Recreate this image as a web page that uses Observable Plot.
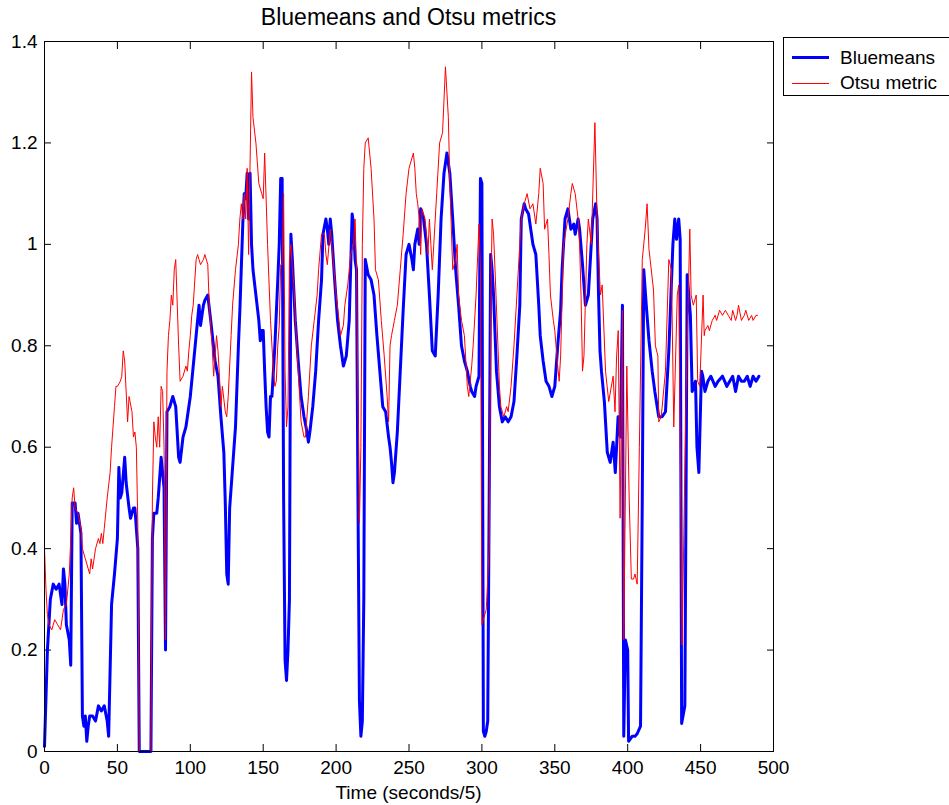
<!DOCTYPE html>
<html>
<head>
<meta charset="utf-8">
<script src="https://cdn.jsdelivr.net/npm/d3@7"></script>
<script src="https://cdn.jsdelivr.net/npm/@observablehq/plot@0.6"></script>
<style>
  html, body { margin: 0; padding: 0; background: white; }
  #wrap { position: relative; width: 949px; height: 805px; overflow: hidden; font-family: "Liberation Sans", Arial, sans-serif; color: black; }
  #title { position: absolute; left: 44px; width: 729px; top: 5px; text-align: center; font-size: 23px; line-height: 25px; }
  #xlabel { position: absolute; left: 44px; width: 729px; top: 782px; text-align: center; font-size: 19px; line-height: 21px; }
  #legend { position: absolute; left: 783px; top: 37px; width: 170px; height: 59px; border: 1px solid black; background: white; box-sizing: border-box; }
  .lg { position: absolute; left: 0; width: 170px; height: 24px; }
  .lg .sw { position: absolute; left: 8px; width: 37px; top: 11px; }
  .lg .tx { position: absolute; left: 56px; top: 0; font-size: 19px; line-height: 24px; white-space: nowrap; }
</style>
</head>
<body>
<div id="wrap">
  <div id="chart"></div>
  <div id="title">Bluemeans and Otsu metrics</div>
  <div id="xlabel">Time (seconds/5)</div>
  <div id="legend"></div>
</div>
<script>
const seriesNames = ["Bluemeans", "Otsu metric"];
const seriesColors = ["#0000ff", "#ff0000"];
const xTicks = [0, 50, 100, 150, 200, 250, 300, 350, 400, 450, 500];
const yTicks = [0, 0.2, 0.4, 0.6, 0.8, 1.0, 1.2, 1.4];

const blueT = [0,2,4,6,8,10,12,13,14,15,17,18,19,21,22,23,25,26,27,28,29,30,31,33,35,37,39,41,43,44,46,48,50,51,52,53,55,56,58,59,61,62,64,65,73,74,75,77,78,80,81,82,83,84,86,88,90,92,93,95,97,100,102,104,106,107,109,110,112,114,117,119,121,123,124,125,126,127,129,131,133,134,136,137,138,139,140,141,142,143,145,147,148,149,150,151,152,153,154,155,156,158,160,161,162,163,164,165,166,167,168,169,170,172,174,176,178,180,181,182,184,186,188,190,191,193,194,195,196,197,199,201,203,205,207,209,211,212,213,214,215,216,217,218,219,220,222,224,226,228,230,232,234,236,237,238,239,240,242,244,246,248,250,252,253,254,256,257,258,260,262,264,266,268,270,272,274,276,278,280,282,284,286,288,290,292,293,295,296,298,299,300,301,302,303,304,305,306,307,308,310,312,314,316,318,320,322,324,326,327,329,330,332,334,335,337,339,340,342,344,346,347,348,350,352,354,355,357,359,360,361,363,364,366,367,369,370,371,373,376,378,379,380,381,382,384,386,388,390,391.5,393.4,395,396.4,397.3,398.4,400,400.6,403,405,406.5,408.8,410,411,413,414.6,416.8,418.6,421.3,423.6,425.9,428.2,431,432.3,433.5,435,436,437,439.2,440,440.8,443,444.2,446.5,447.5,448.8,450.6,451.5,453,455,457,460,462,465,468,470,472,474,476,478,480,482,484,486,488,490];
const blueV = [0.01,0.2,0.3,0.33,0.32,0.33,0.29,0.36,0.33,0.25,0.22,0.17,0.49,0.49,0.45,0.47,0.43,0.07,0.05,0.07,0.02,0.05,0.07,0.07,0.06,0.09,0.08,0.09,0.06,0.03,0.29,0.35,0.42,0.56,0.5,0.51,0.58,0.53,0.48,0.46,0.48,0.48,0.4,0.0,0.0,0.42,0.47,0.47,0.5,0.58,0.55,0.52,0.2,0.67,0.68,0.7,0.68,0.58,0.57,0.62,0.64,0.7,0.76,0.82,0.88,0.84,0.88,0.89,0.9,0.85,0.77,0.74,0.66,0.59,0.49,0.35,0.33,0.48,0.56,0.64,0.8,0.87,1.04,1.1,1.09,1.14,1.05,1.14,1.0,0.95,0.9,0.85,0.81,0.83,0.83,0.75,0.68,0.63,0.62,0.7,0.7,0.8,0.93,1.0,1.13,1.13,0.5,0.18,0.14,0.2,0.3,1.02,0.97,0.85,0.77,0.7,0.66,0.63,0.61,0.63,0.68,0.75,0.85,0.93,1.02,1.05,1.03,1.0,1.05,1.02,0.93,0.85,0.8,0.76,0.78,0.85,1.06,1.04,0.97,0.95,0.5,0.1,0.03,0.06,0.3,0.97,0.94,0.93,0.9,0.82,0.75,0.68,0.67,0.62,0.6,0.57,0.53,0.55,0.63,0.75,0.87,0.98,1.0,0.97,0.95,1.0,1.03,1.0,1.07,1.05,1.0,0.9,0.79,0.78,0.9,1.05,1.14,1.18,1.14,1.05,0.95,0.88,0.8,0.77,0.75,0.72,0.71,0.7,0.72,0.74,1.13,1.12,0.04,0.03,0.04,0.06,0.5,0.98,0.95,0.9,0.75,0.68,0.65,0.66,0.65,0.66,0.69,0.78,0.88,1.05,1.08,1.07,1.06,1.02,1.0,0.98,0.88,0.82,0.77,0.73,0.72,0.71,0.7,0.72,0.8,0.87,0.95,1.05,1.07,1.05,1.03,1.04,1.02,1.05,1.03,0.96,0.92,0.88,0.9,1.05,1.08,1.05,0.9,0.79,0.75,0.69,0.59,0.57,0.61,0.55,0.66,0.62,0.88,0.03,0.22,0.2,0.02,0.03,0.03,0.035,0.05,0.5,0.95,0.87,0.81,0.75,0.71,0.66,0.66,0.67,0.79,1.0,1.05,1.01,1.05,1.01,0.055,0.09,0.5,0.94,0.86,0.71,0.73,0.6,0.55,0.75,0.74,0.71,0.73,0.74,0.72,0.73,0.74,0.72,0.73,0.74,0.71,0.74,0.73,0.73,0.74,0.72,0.74,0.73,0.74];

const redT = [0,1,2,3,5,7,9,11,13,15,17,18,19,20,21,23,25,26,28,30,31,32,33,35,37,38,39,40,41,43,45,46,48,49,50,52,53,54,55,57,58,60,61,62,63,64,65,73,74,75,76,77,78,79,80,81,82,83,84,85,86,87,88,89,90,92,93,95,97,98,99,100,101,102,104,105,106,107,109,110,112,113,115,116,117,118,119,120,121,122,124,125,126,128,129,131,133,134,135,136,137,138,139,140,142,143,145,147,149,150,151,153,155,157,158,159,160,161,162,163,164,165,166,167,168,169,170,171,173,175,176,178,179,181,183,185,187,188,190,192,193,194,196,197,198,200,202,203,205,206,208,210,212,213,214,215,216,217,218,219,220,222,224,226,227,229,231,233,235,236,237,238,240,242,244,246,248,250,252,253,254,255,256,257,258,259,261,262,263,264,265,266,267,269,271,273,275,277,278,280,282,283,284,286,288,290,291,293,294,296,298,299,300,301,303,305,306,307,308,309,311,312,313,314,315,317,318,320,322,324,326,327,329,331,333,335,337,339,340,342,343,345,346,347,349,350,352,353,354,356,359,361,362,364,366,367,368,369,370,372,373,375,377.5,379,381.3,382.5,384.8,387,390,391.3,392.4,393.5,394.8,396.4,397.3,399.4,401,402.5,404,405,406.5,408,410,412,413.3,414.6,415.4,417.7,419,420.7,421.3,423,425.9,428.2,430,431.6,434,435,437.3,440,442.6,443.5,445,447,448,449.4,451.7,452.5,453,455,456,458,460,461,463,465,467,469,471,472,474,475,476,478,480,481,483,485,486,488,489];
const redV = [0.4,0.32,0.27,0.25,0.24,0.26,0.25,0.24,0.28,0.29,0.35,0.42,0.5,0.52,0.48,0.47,0.44,0.4,0.38,0.36,0.35,0.38,0.36,0.4,0.42,0.41,0.43,0.41,0.44,0.5,0.55,0.6,0.68,0.72,0.72,0.73,0.74,0.79,0.77,0.65,0.7,0.67,0.62,0.63,0.6,0.45,0.0,0.0,0.5,0.65,0.62,0.6,0.66,0.6,0.72,0.71,0.6,0.22,0.75,0.82,0.85,0.9,0.88,0.95,0.97,0.8,0.73,0.74,0.76,0.75,0.79,0.82,0.86,0.88,0.97,0.98,0.97,0.96,0.97,0.98,0.96,0.88,0.8,0.74,0.78,0.82,0.79,0.74,0.68,0.72,0.67,0.66,0.7,0.82,0.88,0.95,1.0,1.05,1.08,1.05,1.1,1.05,1.15,0.98,1.34,1.25,1.2,1.12,1.1,1.09,1.18,1.0,0.85,0.75,0.72,0.73,0.8,0.84,0.96,0.96,1.1,0.75,0.64,0.68,0.97,1.0,0.95,0.92,0.8,0.7,0.65,0.62,0.62,0.7,0.8,0.85,0.9,0.95,1.02,1.02,0.98,0.96,1.03,1.0,0.97,0.9,0.85,0.82,0.84,0.88,0.92,0.98,1.0,1.05,0.95,0.7,0.45,0.6,1.0,1.15,1.2,1.21,1.15,1.05,0.95,0.93,0.85,0.78,0.7,0.65,0.8,0.82,0.85,0.88,0.95,1.02,1.1,1.15,1.17,1.18,1.15,1.1,1.08,1.05,0.98,1.07,1.05,1.02,0.98,1.05,1.0,0.95,1.0,1.1,1.2,1.22,1.35,1.25,1.12,0.95,0.97,1.0,0.9,0.85,0.82,0.72,0.7,0.76,0.8,0.9,1.04,0.95,0.25,0.26,0.28,0.4,0.85,1.05,1.02,0.95,0.8,0.72,0.68,0.67,0.66,0.68,0.67,0.72,0.8,0.9,1.0,1.05,1.08,1.1,1.07,1.08,1.04,1.1,1.15,1.12,1.03,1.05,0.98,0.9,0.85,0.83,0.76,0.73,0.78,1.0,1.05,1.1,1.12,1.1,1.05,1.0,0.9,0.75,0.78,1.0,1.05,1.0,1.24,1.05,0.9,0.92,0.75,0.69,0.74,0.67,0.78,0.83,0.46,0.87,0.22,0.76,0.5,0.34,0.34,0.35,0.33,0.6,0.97,1.03,1.08,0.99,0.97,0.91,0.8,0.78,0.65,0.66,0.75,0.97,0.95,0.64,0.9,0.92,0.21,0.7,1.03,0.9,0.88,0.9,0.73,0.72,0.9,0.82,0.83,0.84,0.83,0.85,0.86,0.85,0.87,0.86,0.87,0.86,0.85,0.87,0.85,0.86,0.88,0.85,0.86,0.87,0.85,0.86,0.85,0.86,0.86,0.87];

const blue = blueT.map((t, i) => ({t, v: blueV[i]}));
const red = redT.map((t, i) => ({t, v: redV[i]}));

const fmtY = d => String(+d.toFixed(1));

const chart = Plot.plot({
  width: 949,
  height: 805,
  marginLeft: 44,
  marginRight: 176,
  marginTop: 41,
  marginBottom: 54,
  style: {fontFamily: "'Liberation Sans', Arial, sans-serif", fontSize: "19px", background: "white", color: "black", overflow: "visible"},
  x: {domain: [0, 500], label: null},
  y: {domain: [0, 1.4], label: null},
  marks: [
    Plot.axisX({anchor: "bottom", ticks: xTicks, tickSize: -7, tickPadding: 16, tickFormat: d => String(d), label: null}),
    Plot.axisX({anchor: "top", ticks: xTicks, tickSize: -7, tickFormat: () => "", label: null}),
    Plot.axisY({anchor: "left", ticks: yTicks, tickSize: -7, tickPadding: 14, tickFormat: fmtY, label: null}),
    Plot.axisY({anchor: "right", ticks: yTicks, tickSize: -7, tickFormat: () => "", label: null}),
    Plot.line(blue, {x: "t", y: "v", stroke: seriesColors[0], strokeWidth: 3}),
    Plot.line(red, {x: "t", y: "v", stroke: seriesColors[1], strokeWidth: 1}),
    Plot.frame({stroke: "black", strokeWidth: 1})
  ]
});
document.getElementById("chart").appendChild(chart);

const legend = document.getElementById("legend");
seriesNames.forEach((name, i) => {
  const row = document.createElement("div");
  row.className = "lg";
  row.style.top = (8 + i * 25) + "px";
  const sw = document.createElement("div");
  sw.className = "sw";
  sw.style.borderTop = (i === 0 ? 3 : 1) + "px solid " + seriesColors[i];
  sw.style.top = (i === 0 ? 10 : 12) + "px";
  const tx = document.createElement("div");
  tx.className = "tx";
  tx.textContent = name;
  row.appendChild(sw);
  row.appendChild(tx);
  legend.appendChild(row);
});
</script>
</body>
</html>
